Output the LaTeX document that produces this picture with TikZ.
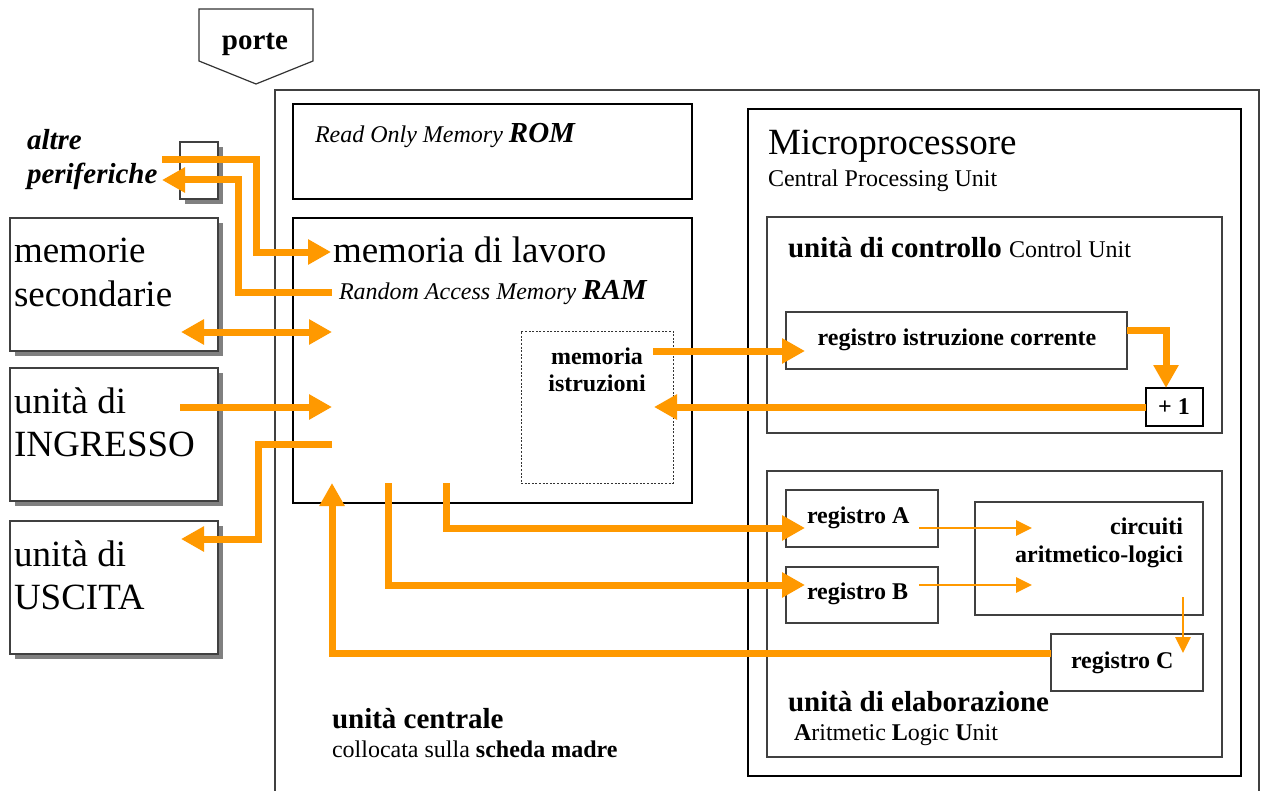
\documentclass[tikz,border=0pt]{standalone}
\usepackage{fontspec}
\setmainfont{Liberation Serif}
\usetikzlibrary{arrows.meta,shadows}
\definecolor{org}{HTML}{FF9900}
\newcommand{\fsz}[1]{\fontsize{#1}{#1}\selectfont}
\newcommand{\bx}[6]{\node[#6, inner sep=0pt, outer sep=0pt, minimum width={(#4-#2)*0.5pt}, minimum height={(#5-#3)*0.5pt}, anchor=north west] (#1) at (#2,#3) {};}
\begin{document}
\begin{tikzpicture}[x=0.5pt,y=-0.5pt,
  thick box/.style={draw=black, line width=1.2pt, fill=white},
  thin box/.style={draw=black!75, line width=0.6pt, fill=white},
  shad box/.style={thin box, drop shadow={shadow xshift=2.5pt, shadow yshift=-2.5pt, fill=black!50, opacity=1}},
  dash box/.style={draw=black!80, line width=0.5pt, dashed, dash pattern=on 1pt off 0.8pt},
  txt/.style={inner sep=0pt, outer sep=0pt, anchor=base west},
  ctxt/.style={inner sep=0pt, outer sep=0pt, anchor=base},
  rtxt/.style={inner sep=0pt, outer sep=0pt, anchor=base east},
  fl/.style={draw=org, line width=3.5pt, line join=miter},
  fla/.style={fl, -{Triangle[length=11.5pt,width=12pt]}},
  flb/.style={fl, {Triangle[length=11.5pt,width=12pt]}-{Triangle[length=11.5pt,width=12pt]}},
  thn/.style={draw=org, line width=1.4pt, -{Triangle[length=8pt,width=7.5pt]}}]
\useasboundingbox (0,0) rectangle (1262,791);
\fill[white] (0,0) rectangle (1262,791);

% porte
\draw[black!80, line width=0.6pt] (199,9) -- (313,9) -- (313,61) -- (256,84) -- (199,61) -- cycle;
\node[ctxt] (porte) at (255,50) {\fsz{14.5}\bfseries porte};

% outer central unit
\draw[black!75, line width=0.7pt] (275,795) -- (275,90) -- (1259,90) -- (1259,795);

% left peripherals
\bx{altre}{180}{142}{218}{199}{shad box}
\node[txt] (altreT) at (27,150) {\fsz{14.5}\bfseries\itshape altre};
\node[txt] (perifT) at (27,184) {\fsz{14.5}\bfseries\itshape periferiche};

\bx{memsec}{10}{218}{218}{351}{shad box}
\node[txt] (memsecA) at (14,263) {\fsz{18.5}memorie};
\node[txt] (memsecB) at (14,306) {\fsz{18.5}secondarie};

\bx{ingr}{10}{368}{218}{501}{shad box}
\node[txt] (ingrA) at (14,413) {\fsz{18.5}unità di};
\node[txt] (ingrB) at (14,456) {\fsz{18.5}INGRESSO};

\bx{usc}{10}{521}{218}{654}{shad box}
\node[txt] (uscA) at (14,566) {\fsz{18.5}unità di};
\node[txt] (uscB) at (14,609) {\fsz{18.5}USCITA};

% ROM / RAM
\bx{rom}{293}{104}{692}{199}{thick box}
\node[txt] (romT) at (315,143) {\fsz{12}\itshape Read Only Memory {\fsz{14.5}\bfseries ROM}};

\bx{ram}{293}{218}{692}{503}{thick box}
\node[txt] (ramT) at (333,263) {\fsz{18.5}memoria di lavoro};
\node[txt] (ramS) at (339,299) {\fsz{12}\itshape Random Access Memory {\fsz{14.5}\bfseries RAM}};

\bx{memistr}{521}{331}{673}{483}{dash box}
\node[ctxt] (memistrA) at (597,364) {\fsz{12}\bfseries memoria};
\node[ctxt] (memistrB) at (597,391) {\fsz{12}\bfseries istruzioni};

% microprocessor
\bx{micro}{748}{109}{1241}{776}{thick box}
\node[txt] (microT) at (768,155) {\fsz{18.5}Microprocessore};
\node[txt] (microS) at (768,187) {\fsz{12}Central Processing Unit};

\bx{cu}{767}{217}{1222}{433}{thin box}
\node[txt] (cuT) at (788,257) {\fsz{14.5}\bfseries unità di controllo {\fsz{12}\mdseries Control Unit}};

\bx{ric}{786}{312}{1127}{369}{thin box}
\node[ctxt] (ricT) at (957,345) {\fsz{12}\bfseries registro istruzione corrente};

\bx{plus}{1146}{388}{1203}{426}{thick box}
\node[ctxt] (plusT) at (1174,414) {\fsz{12}\bfseries + 1};

\bx{alu}{767}{471}{1222}{757}{thin box}
\bx{regA}{786}{490}{938}{547}{thin box}
\node[txt] (regAT) at (807,523) {\fsz{12}\bfseries registro A};
\bx{regB}{786}{567}{938}{623}{thin box}
\node[txt] (regBT) at (807,599) {\fsz{12}\bfseries registro B};
\bx{circ}{975}{502}{1203}{615}{thin box}
\node[rtxt] (circA) at (1183,534) {\fsz{12}\bfseries circuiti};
\node[rtxt] (circB) at (1183,562) {\fsz{12}\bfseries aritmetico-logici};
\bx{regC}{1051}{634}{1203}{691}{thin box}
\node[txt] (regCT) at (1071,668) {\fsz{12}\bfseries registro C};

\node[txt] (aluT) at (788,711) {\fsz{14.5}\bfseries unità di elaborazione};
\node[txt] (aluS) at (794,740) {\fsz{12}\textbf{A}ritmetic \textbf{L}ogic \textbf{U}nit};

\node[txt] (ucT) at (332,728) {\fsz{14.5}\bfseries unità centrale};
\node[txt] (ucS) at (332,757) {\fsz{12}collocata sulla \textbf{scheda madre}};

% arrow end points
\coordinate (a1s) at (162,160); \coordinate (a1e) at (331,252);
\coordinate (a2s) at (332,292); \coordinate (a2e) at (162,180);
\coordinate (a3s) at (181,332); \coordinate (a3e) at (332,332);
\coordinate (a4s) at (180,407); \coordinate (a4e) at (332,407);
\coordinate (a5s) at (332,444); \coordinate (a5e) at (181,539);
\coordinate (a6e) at (332,483);
\coordinate (a7s) at (388,483); \coordinate (a7e) at (805,585);
\coordinate (a8s) at (446,483); \coordinate (a8e) at (805,528);
\coordinate (a9s) at (653,351); \coordinate (a9e) at (805,351);
\coordinate (a11e) at (654,407);
\coordinate (t1s) at (919,528); \coordinate (t1e) at (1032,528);
\coordinate (t2s) at (919,585); \coordinate (t2e) at (1032,585);
\coordinate (t3s) at (1183,597); \coordinate (t3e) at (1183,653);

% thick orange arrows
\draw[fla] (a1s) -- (256,160) -- (256,252) -- (a1e);
\draw[fla] (a2s) -- (238,292) -- (238,180) -- (a2e);
\draw[flb] (a3s) -- (a3e);
\draw[fla] (a4s) -- (a4e);
\draw[fla] (a5s) -- (258,444) -- (258,539) -- (a5e);
\draw[fla] (regC.west |- 0,653) -- (332,653) -- (a6e);
\draw[fla] (a7s) -- (388,585) -- (a7e);
\draw[fla] (a8s) -- (446,528) -- (a8e);
\draw[fla] (a9s) -- (a9e);
\draw[fla] (ric.east |- 0,330) -- (1166,330) -- (plus.north -| 1166,0);
\draw[fla] (plus.west) -- (a11e);

% thin orange arrows
\draw[thn] (t1s) -- (t1e);
\draw[thn] (t2s) -- (t2e);
\draw[thn] (t3s) -- (t3e);
\end{tikzpicture}
\end{document}
